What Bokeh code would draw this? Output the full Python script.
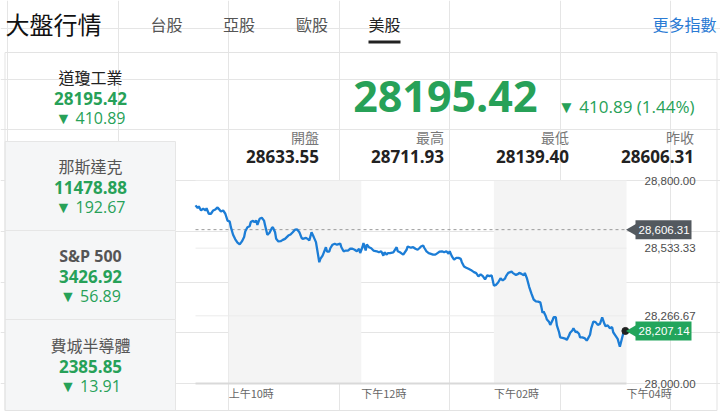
from bokeh.plotting import figure
from bokeh.models import (Range1d, FixedTicker, NumeralTickFormatter, LinearAxis, ColumnDataSource)
from bokeh.core.properties import value
from bokeh.embed import file_html
from bokeh.resources import INLINE
import math

# ---------------- data ----------------
open_minute = 570  # 09:30 (minutes after midnight)
minutes = [0, 2, 3, 5, 7, 9, 10, 12, 14, 16, 18, 20, 21, 23, 25, 27, 29, 31, 32, 34,
           36, 38, 40, 42, 44, 45, 47, 49, 50, 52, 53, 55, 56, 58, 60, 62, 63, 65, 67, 69,
           70, 72, 73, 75, 77, 79, 81, 84, 86, 88, 90, 92, 94, 96, 97, 100, 102, 103, 105, 107,
           109, 110, 112, 113, 115, 116, 118, 119, 121, 122, 124, 126, 128, 131,
           132, 134, 136, 138, 140, 142, 144, 146, 148, 149, 151, 152, 154, 155, 157, 159,
           161, 164, 166, 168, 170, 171, 173, 174, 176, 179, 180, 182, 183, 185, 187, 188,
           191, 192, 195, 197, 199, 201, 203, 204, 206, 207, 209, 211, 213, 215, 217, 219,
           221, 223, 225, 227, 229, 230, 232, 234, 236, 238, 240, 241, 243, 245, 247, 250,
           252, 254, 256, 258,
           260, 262, 264, 266, 268, 270, 272, 274, 276, 278, 280, 281, 283, 286, 287, 290,
           292, 293, 295, 297, 298, 300, 302, 304, 306, 308, 310, 312, 313, 314, 315, 317,
           318, 320, 321, 323, 324, 326, 327, 329, 330, 333, 335, 336, 338, 339, 341, 342,
           344, 345, 347, 348, 350, 352, 354, 355, 357, 358, 360, 362, 364, 366, 368, 370,
           371, 373, 375, 377, 378, 380, 382, 384, 386, 387, 389]
values = [28702, 28691, 28698, 28682, 28689, 28682, 28691, 28669, 28669, 28682, 28686, 28694, 28689, 28678, 28682, 28669, 28642, 28638, 28616, 28586,
          28568, 28555, 28548, 28560, 28577, 28599, 28616, 28620, 28636, 28641, 28636, 28642, 28625, 28649, 28653, 28642, 28623, 28586, 28594, 28612,
          28616, 28596, 28570, 28560, 28561, 28566, 28570, 28583, 28587, 28596, 28606, 28607, 28596, 28574, 28570, 28574, 28568, 28564, 28596, 28577,
          28557, 28531, 28478, 28491, 28504, 28515, 28537, 28520, 28520, 28533, 28547, 28551, 28547, 28551,
          28537, 28521, 28524, 28524, 28531, 28531, 28527, 28521, 28531, 28514, 28537, 28553, 28524, 28548, 28537, 28533,
          28524, 28521, 28517, 28521, 28504, 28517, 28508, 28514, 28514, 28517, 28524, 28537, 28521, 28517, 28511, 28508,
          28527, 28540, 28535, 28537, 28531, 28527, 28535, 28540, 28544, 28535, 28521, 28514, 28511, 28508, 28508, 28514,
          28520, 28521, 28517, 28521, 28511, 28521, 28501, 28488, 28495, 28495, 28491, 28478, 28461, 28456, 28452, 28445,
          28439, 28435, 28422, 28430,
          28423, 28410, 28426, 28423, 28426, 28386, 28389, 28399, 28415, 28406, 28413, 28423, 28436, 28441, 28436, 28428,
          28432, 28436, 28432, 28426, 28436, 28413, 28380, 28354, 28331, 28324, 28323, 28320, 28301, 28279, 28284, 28265,
          28252, 28242, 28231, 28248, 28261, 28261, 28229, 28202, 28182, 28179, 28176, 28172, 28189, 28200, 28209, 28218,
          28202, 28205, 28196, 28182, 28182, 28179, 28169, 28176, 28192, 28216, 28244, 28242, 28231, 28235, 28261, 28235,
          28226, 28229, 28218, 28222, 28202, 28189, 28176, 28145, 28179, 28196, 28207.14]
prev_close = 28606.31
x_ticks = [600, 720, 840, 960]
x_tick_labels = ["上午10時", "下午12時", "下午02時", "下午04時"]
y_ticks = [28000, 28266.67, 28533.33, 28800]
shade_periods = [(600, 720), (840, 960)]

tabs = ["台股", "亞股", "歐股", "美股"]
index_names = ["道瓊工業", "那斯達克", "S&P 500", "費城半導體"]
index_values = ["28195.42", "11478.88", "3426.92", "2385.85"]
index_changes = ["410.89", "192.67", "56.89", "13.91"]
main_value = "28195.42"
main_change = "410.89"
main_pct = "1.44%"
stat_labels = ["開盤", "最高", "最低", "昨收"]
stat_values = ["28633.55", "28711.93", "28139.40", "28606.31"]

# ---------------- layout (canvas pixels) ----------------
W, H = 720, 411
PL, PR, PT, PB = 195, 626, 180, 383      # chart plot area
GREEN = "#27a158"
CJK = "Noto Sans CJK TC"
NUM = "Open Sans"

x0, x1 = open_minute, x_ticks[-1]
y0, y1 = y_ticks[0], y_ticks[-1]
kx = (x1 - x0) / (PR - PL)
ky = (y1 - y0) / (PB - PT)
xr = Range1d(x0 - PL * kx, x1 + (W - PR) * kx)
yr = Range1d(y0 - (H - PB) * ky, y1 + PT * ky)

p = figure(width=W, height=H, output_backend="svg", toolbar_location=None,
           x_range=xr, y_range=yr, x_axis_location=None, y_axis_location=None)
p.min_border = 0
p.outline_line_color = None
p.background_fill_color = "white"
p.border_fill_color = "white"
p.extra_x_ranges = {"px": Range1d(0, W)}
p.extra_y_ranges = {"px": Range1d(H, 0)}

def quad(l, r, t, b, fill=None, line=None, lw=1):
    p.quad(left=l, right=r, top=t, bottom=b, x_range_name="px", y_range_name="px",
           fill_color=fill, fill_alpha=1 if fill else 0, line_color=line, line_width=lw)

def txt(text, x, y, size, color, font=CJK, align="center", bold=False):
    p.text(x=[x], y=[y], text=[text], x_range_name="px", y_range_name="px",
           text_font=value(font), text_font_size=f"{size}px", text_color=color,
           text_align=align, text_baseline="middle",
           text_font_style="bold" if bold else "normal")

# outer box and sidebar cards
card_edges = [52, 141, 230, 319, 410]
for i in range(1, 4):
    quad(4.5, 175, card_edges[i], card_edges[i + 1], fill="#f5f6f7", line="#e6e6e6")
quad(4.5, 716.5, 52, 410, fill=None, line="#e3e3e3")

# chart: shaded periods, grid, previous close, price line
p.quad(left=[a for a, b in shade_periods], right=[b for a, b in shade_periods],
       bottom=y0, top=y1, fill_color="#f4f4f4", line_color=None)
p.segment(x0=[x0] * 3, x1=[x1] * 3, y0=y_ticks[1:], y1=y_ticks[1:],
          line_color="#ebebeb", line_width=1)
p.segment(x0=[x0], x1=[x1], y0=[y0], y1=[y0], line_color="#d9d9d9", line_width=2)
p.segment(x0=[x0], x1=[x1], y0=[prev_close], y1=[prev_close],
          line_color="#9a9a9a", line_width=1, line_dash="3 3")

t = [open_minute + m for m in minutes]
src = ColumnDataSource(dict(t=t, v=values))
p.line(x="t", y="v", source=src, line_color="#1c7dd6", line_width=2.3)
p.scatter([t[-1]], [values[-1]], size=7, color="#222222")

# right value axis
yax = LinearAxis(fixed_location=x1, ticker=FixedTicker(ticks=y_ticks),
                 formatter=NumeralTickFormatter(format="0,0.00"))
yax.axis_line_color = None
yax.major_tick_line_color = None
yax.minor_tick_line_color = None
yax.major_label_standoff = 12
yax.major_label_text_font = "Liberation Sans"
yax.major_label_text_font_size = "11.5px"
yax.major_label_text_color = "#4d4d4d"
p.add_layout(yax, "right")

# time labels (left-aligned at their ticks)
p.text(x=x_ticks, y=[392.5] * len(x_ticks), text=x_tick_labels, y_range_name="px",
       text_font=value(CJK), text_font_size="11px", text_color="#666666",
       text_align="left", text_baseline="middle")

# price tags
for val, col in [(prev_close, "#53595f"), (values[-1], "#22a55c")]:
    p.rect(x=[663], y=[val], width=56, height=19, width_units="screen", height_units="screen",
           x_range_name="px", fill_color=col, line_color=None)
    p.scatter(x=[633], y=[val], marker="triangle", size=13, angle=math.pi / 2,
              x_range_name="px", fill_color=col, line_color=None)
    p.text(x=[638], y=[val], text=[f"{val:,.2f}"], x_range_name="px",
           text_font=value("Liberation Sans"), text_font_size="11.5px", text_color="white",
           text_align="left", text_baseline="middle")

# header
txt("大盤行情", 5, 23, 24, "#111111", align="left")
tab_x = [166, 238.5, 311.5, 384]
for i, (name, x) in enumerate(zip(tabs, tab_x)):
    txt(name, x, 23, 16, "#222222" if i == 3 else "#555555")
quad(368, 400, 40, 43, fill="#222222", line=None)
txt("更多指數", 716, 23, 16, "#2b7bd4", align="right")

# sidebar texts
name_y = [76, 165, 255, 344.5]
val_y = [98, 187, 276, 365.5]
chg_y = [117.5, 206, 295, 385]
for i in range(4):
    if index_names[i].isascii():
        txt(index_names[i], 90, name_y[i], 16, "#555555", font=NUM, bold=True)
    else:
        txt(index_names[i], 90, name_y[i], 16, "#222222" if i == 0 else "#555555")
    txt(index_values[i], 90, val_y[i], 17, GREEN, font=NUM, bold=True)
    txt("▼ " + index_changes[i], 90, chg_y[i], 16, GREEN, font=NUM)

# main quote
txt(main_value, 537, 96, 43, GREEN, font=NUM, align="right", bold=True)
txt(f"▼ {main_change} ({main_pct})", 694, 106, 17, GREEN, font=NUM, align="right")
stat_right = [318.5, 443.5, 568.5, 693.5]
for lbl, v, x in zip(stat_labels, stat_values, stat_right):
    txt(lbl, x, 136, 14, "#777777", align="right")
    txt(v, x, 155.5, 17, "#222222", font=NUM, align="right", bold=True)

open("out.html", "w").write(file_html(p, INLINE))
